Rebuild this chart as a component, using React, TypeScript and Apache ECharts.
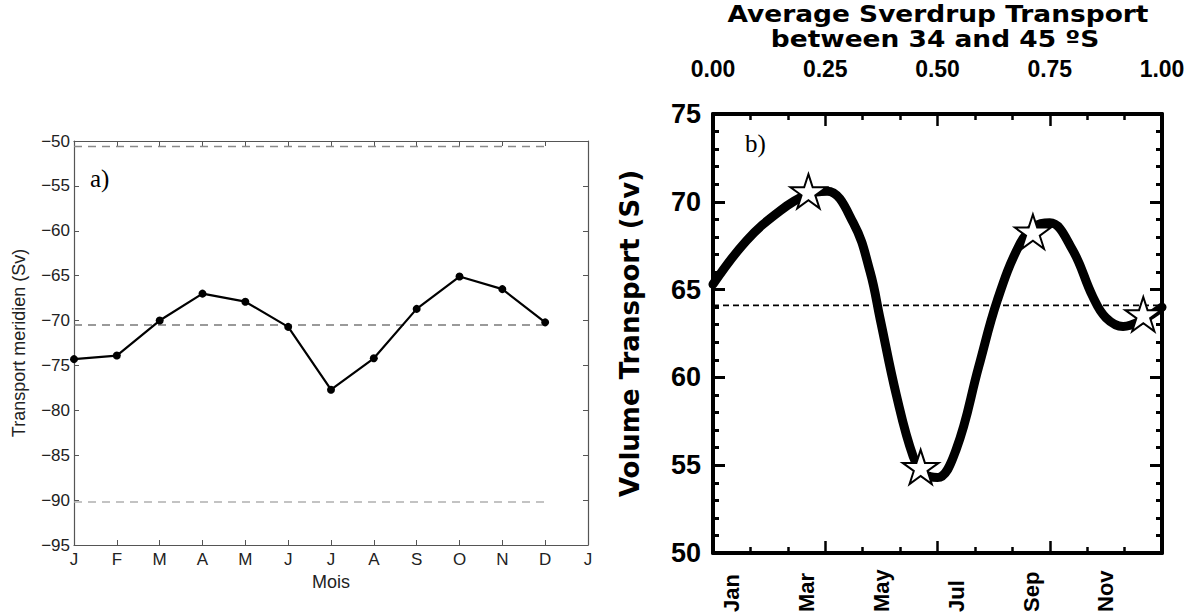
import React, { useEffect, useRef } from "react";
import * as echarts from "echarts";

// ---------- Panel a) ----------
const monthLetters = ["J", "F", "M", "A", "M", "J", "J", "A", "S", "O", "N", "D", "J"];
const transportA = [-74.3, -73.9, -70.0, -67.0, -67.9, -70.7, -77.7, -74.2, -68.7, -65.1, -66.5, -70.2];
const refLinesA = [-50.6, -70.5, -90.2];
const refColorsA = ["#8a8a8a", "#7a7a7a", "#b0b0b0"];

// ---------- Panel b) ----------
const monthNamesB = ["Jan", "Feb", "Mar", "Apr", "May", "Jun", "Jul", "Aug", "Sep", "Oct", "Nov", "Dec"];
const curveMonthB = [0, 0.9, 1.8, 2.5, 3.05, 3.75, 4.2, 4.47, 4.9, 5.35, 5.65, 6.0, 6.5, 7.1, 7.6, 8.2, 8.6, 9.0, 9.6, 10.15, 10.5, 10.96, 11.5, 12];
const curveValueB = [65.3, 67.8, 69.5, 70.4, 70.6, 68.8, 66.0, 63.3, 59.0, 55.5, 54.5, 54.3, 55.9, 60.6, 64.4, 67.6, 68.6, 68.8, 67.3, 64.6, 63.4, 62.9, 63.3, 64.0];
const starMonthB = [2.55, 5.55, 8.55, 11.5];
const starValueB = [70.6, 54.9, 68.3, 63.6];
const meanB = 64.1;
const topTicksB = [0, 0.25, 0.5, 0.75, 1];

const STAR = "path://M100,0 L122.45,69.1 L195.1,69.1 L136.3,111.8 L158.8,180.9 L100,138.2 L41.2,180.9 L63.7,111.8 L4.9,69.1 L77.55,69.1 Z";

export default function App() {
  const ref = useRef<HTMLDivElement>(null);
  useEffect(() => {
    if (!ref.current) return;
    const chart = echarts.init(ref.current, undefined, { renderer: "svg" });
    const grayAxis = { show: true, onZero: false, lineStyle: { color: "#555", width: 1.2 } };
    const blackAxis = { show: true, onZero: false, lineStyle: { color: "#000", width: 4 } };
    const boldFont = "Liberation Sans";
    chart.setOption({
      animation: false,
      grid: [
        { left: 74, top: 141, width: 514, height: 404 },
        { left: 713, top: 114, width: 449, height: 439 },
      ],
      xAxis: [
        {
          gridIndex: 0, type: "value", position: "bottom", min: 0, max: 12, interval: 1,
          axisLine: grayAxis, splitLine: { show: false },
          axisTick: { inside: true, length: 5, lineStyle: { color: "#555" } },
          axisLabel: { formatter: (v: number) => monthLetters[Math.round(v)], fontSize: 17, color: "#222", fontFamily: "Liberation Sans", margin: 6 },
          name: "Mois", nameLocation: "middle", nameGap: 28,
          nameTextStyle: { fontSize: 18, color: "#222", fontFamily: "Liberation Sans" },
        },
        {
          gridIndex: 0, type: "value", position: "top", min: 0, max: 12, interval: 1,
          axisLine: grayAxis, splitLine: { show: false },
          axisTick: { inside: true, length: 5, lineStyle: { color: "#555" } },
          axisLabel: { show: false },
        },
        {
          gridIndex: 1, type: "value", position: "bottom", min: 0, max: 12, interval: 3,
          axisLine: blackAxis, splitLine: { show: false },
          axisTick: { inside: true, length: 12, lineStyle: { color: "#000", width: 2.5 } },
          minorTick: { show: true, splitNumber: 3, length: 6, lineStyle: { color: "#000", width: 2.5 } },
          axisLabel: { show: false },
        },
        {
          gridIndex: 1, type: "value", position: "top", min: 0, max: 1, interval: 0.25,
          axisLine: blackAxis, splitLine: { show: false },
          axisTick: { inside: true, length: 12, lineStyle: { color: "#000", width: 2.5 } },
          minorTick: { show: true, splitNumber: 3, length: 6, lineStyle: { color: "#000", width: 2.5 } },
          axisLabel: {
            formatter: (v: number) => topTicksB.includes(v) ? v.toFixed(2) : "",
            fontSize: 23, fontWeight: "bold", color: "#000", fontFamily: boldFont, margin: 34,
          },
        },
        {
          gridIndex: 1, type: "category", position: "bottom", data: monthNamesB, boundaryGap: true,
          axisLine: { show: false }, axisTick: { show: false }, splitLine: { show: false },
          axisLabel: {
            interval: 1, rotate: 90, align: "left", margin: 59,
            fontSize: 22, fontWeight: "bold", color: "#000", fontFamily: boldFont,
          },
        },
      ],
      yAxis: [
        {
          gridIndex: 0, type: "value", position: "left", min: -95, max: -50, interval: 5,
          axisLine: grayAxis, splitLine: { show: false },
          axisTick: { inside: true, length: 5, lineStyle: { color: "#555" } },
          axisLabel: { formatter: (v: number) => String(v).replace("-", "\u2212"), fontSize: 17, color: "#222", fontFamily: "Liberation Sans", margin: 4 },
          name: "Transport meridien (Sv)", nameLocation: "middle", nameGap: 46,
          nameTextStyle: { fontSize: 18, color: "#222", fontFamily: "Liberation Sans" },
        },
        {
          gridIndex: 0, type: "value", position: "right", min: -95, max: -50, interval: 5,
          axisLine: grayAxis, splitLine: { show: false },
          axisTick: { inside: true, length: 5, lineStyle: { color: "#555" } },
          axisLabel: { show: false },
        },
        {
          gridIndex: 1, type: "value", position: "left", min: 50, max: 75, interval: 5,
          axisLine: blackAxis, splitLine: { show: false },
          axisTick: { inside: true, length: 12, lineStyle: { color: "#000", width: 3 } },
          minorTick: { show: true, splitNumber: 5, length: 6, lineStyle: { color: "#000", width: 3 } },
          axisLabel: { fontSize: 27, fontWeight: "bold", color: "#000", fontFamily: boldFont, margin: 12 },
          name: "Volume Transport (Sv)", nameLocation: "middle", nameGap: 70,
          nameTextStyle: { fontSize: 26, fontWeight: "bold", color: "#000", fontFamily: "DejaVu Sans" },
        },
        {
          gridIndex: 1, type: "value", position: "right", min: 50, max: 75, interval: 5,
          axisLine: blackAxis, splitLine: { show: false },
          axisTick: { inside: true, length: 12, lineStyle: { color: "#000", width: 3 } },
          minorTick: { show: true, splitNumber: 5, length: 6, lineStyle: { color: "#000", width: 3 } },
          axisLabel: { show: false },
        },
      ],
      series: [
        ...refLinesA.map((v, i) => ({
          type: "line", xAxisIndex: 0, yAxisIndex: 0, symbol: "none", silent: true,
          data: [[0, v], [11, v]],
          lineStyle: { color: refColorsA[i], width: 1.5, type: [8, 6] },
        })),
        {
          type: "line", xAxisIndex: 0, yAxisIndex: 0,
          data: transportA.map((v, i) => [i, v]),
          symbol: "circle", symbolSize: 8,
          lineStyle: { color: "#000", width: 2.2 }, itemStyle: { color: "#000" },
        },
        {
          type: "line", xAxisIndex: 2, yAxisIndex: 2, symbol: "none", silent: true,
          data: [[0, meanB], [12, meanB]],
          lineStyle: { color: "#000", width: 1.8, type: [6, 4] },
        },
        {
          type: "line", xAxisIndex: 2, yAxisIndex: 2, symbol: "none", smooth: 0.4,
          data: curveMonthB.map((m, i) => [m, curveValueB[i]]),
          lineStyle: { color: "#000", width: 9, cap: "round", join: "round" },
        },
        {
          type: "scatter", xAxisIndex: 2, yAxisIndex: 2, z: 5,
          data: starMonthB.map((m, i) => [m, starValueB[i]]),
          symbol: STAR, symbolSize: 36, symbolKeepAspect: true,
          itemStyle: { color: "#fff", borderColor: "#000", borderWidth: 2, opacity: 1 },
        },
      ],
      graphic: [
        { type: "text", left: 90, top: 166, style: { text: "a)", fontSize: 25, fontFamily: "Liberation Serif", fill: "#000" } },
        { type: "text", left: 745, top: 131, style: { text: "b)", fontSize: 25, fontFamily: "Liberation Serif", fill: "#000" } },
        { type: "text", x: 938, y: 14, scaleX: 1.15, style: { text: "Average Sverdrup Transport", fontSize: 23, fontWeight: "bold", fontFamily: "DejaVu Sans", fill: "#000", align: "center", verticalAlign: "middle" } },
        { type: "text", x: 935, y: 39, scaleX: 1.15, style: { text: "between 34 and 45 \u00BAS", fontSize: 23, fontWeight: "bold", fontFamily: "DejaVu Sans", fill: "#000", align: "center", verticalAlign: "middle" } },
      ],
    });
    return () => chart.dispose();
  }, []);
  return <div ref={ref} style={{ position: "fixed", left: 0, top: 0, width: 1200, height: 616, background: "#fff" }} />;
}
